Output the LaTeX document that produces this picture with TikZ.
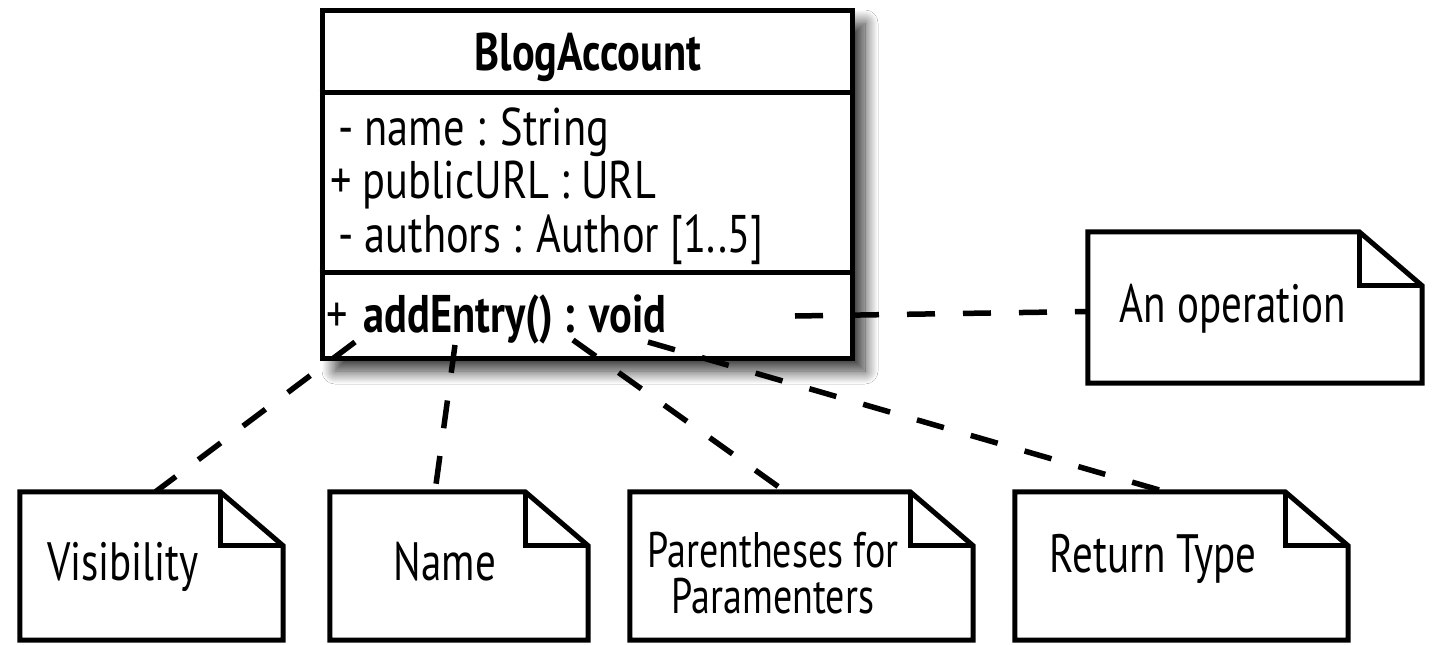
\documentclass[tikz,border=0pt]{standalone}
\usepackage{fontspec}
\setmainfont{PT Sans}[FakeStretch=0.8]
\newfontfamily\notefont{PT Sans}[FakeStretch=0.76]
\usetikzlibrary{shadows.blur}

\tikzset{
  boxline/.style={line width=5pt, draw=black, line join=miter},
  classbox/.style={boxline, fill=white, rectangle, inner sep=0pt,
    blur shadow={shadow xshift=13pt, shadow yshift=-13pt,
      shadow blur radius=13pt, shadow blur steps=16, shadow opacity=80}},
  notebox/.style={rectangle, inner sep=0pt, minimum height=148pt},
  txt/.style={inner sep=0pt, anchor=base west, font=\fontsize{53}{60}\selectfont},
  notetxt/.style={inner sep=0pt, anchor=base, align=center,
    font=\notefont\fontsize{54}{56}\selectfont},
  link/.style={line width=5.5pt, dash pattern=on 28pt off 28pt},
}

\begin{document}
\begin{tikzpicture}[x=1pt, y=-1pt]
  \useasboundingbox[fill=white] (0,0) rectangle (1435,645);

  % class box with its three compartments
  \node[classbox, minimum width=530pt, minimum height=348pt] (cls) at (587,184) {};
  \coordinate (d1) at (0,92);
  \coordinate (d2) at (0,272);
  \draw[boxline] (cls.west |- d1) -- (cls.east |- d1);
  \draw[boxline] (cls.west |- d2) -- (cls.east |- d2);

  \node[txt, anchor=base] (cname) at (588,70) {\bfseries BlogAccount};
  \node[txt] (a1) at (338,145) {- name : String};
  \node[txt] (a2) at (330,198) {+ publicURL : URL};
  \node[txt] (a3) at (338,252) {- authors : Author [1..5]};
  \node[txt] (op1) at (326,332) {+\hspace{16pt}\bfseries addEntry() : void};

  % notes
  \node[notebox, minimum width=334pt, minimum height=151pt] (op) at (1255,307.5) {};
  \node[notebox, minimum width=263pt] (vis) at (151.5,566) {};
  \node[notebox, minimum width=258pt] (nam) at (459,566) {};
  \node[notebox, minimum width=343pt] (par) at (801.5,566) {};
  \node[notebox, minimum width=333pt] (ret) at (1181.5,566) {};

  \foreach \n in {op,vis,nam,par,ret}{
    \draw[boxline] (\n.north west) -- ([xshift=-63pt]\n.north east)
      -- ([yshift=-54pt]\n.north east) -- (\n.south east)
      -- (\n.south west) -- cycle;
    \draw[boxline] ([xshift=-63pt]\n.north east)
      -- ([xshift=-63pt,yshift=-54pt]\n.north east)
      -- ([yshift=-54pt]\n.north east);
  }

  \node[notetxt] (opT) at (1233,322) {An operation};
  \node[notetxt] (visT) at (123,580) {Visibility};
  \node[notetxt] (namT) at (445,580) {Name};
  \node[notetxt, font=\notefont\fontsize{50}{46}\selectfont] (parT) at (773,613)
    {Parentheses for\\Paramenters};
  \node[notetxt] (retT) at (1153,572) {Return Type};

  % dashed links from the operation to its notes
  \coordinate (sVis) at (355,342);
  \coordinate (sNam) at (455,345);
  \coordinate (sPar) at (573,340);
  \coordinate (sRet) at (648,342);
  \coordinate (sOp)  at (795,316);

  \draw[link] (sVis) -- ([xshift=4pt]vis.north);
  \draw[link] (sNam) -- ([xshift=-24pt]nam.north);
  \draw[link] (sPar) -- ([xshift=-16pt]par.north);
  \draw[link] (sRet) -- ([xshift=-16pt]ret.north);
  \draw[link] (sOp) -- ([yshift=-4pt]op.west);
\end{tikzpicture}
\end{document}
